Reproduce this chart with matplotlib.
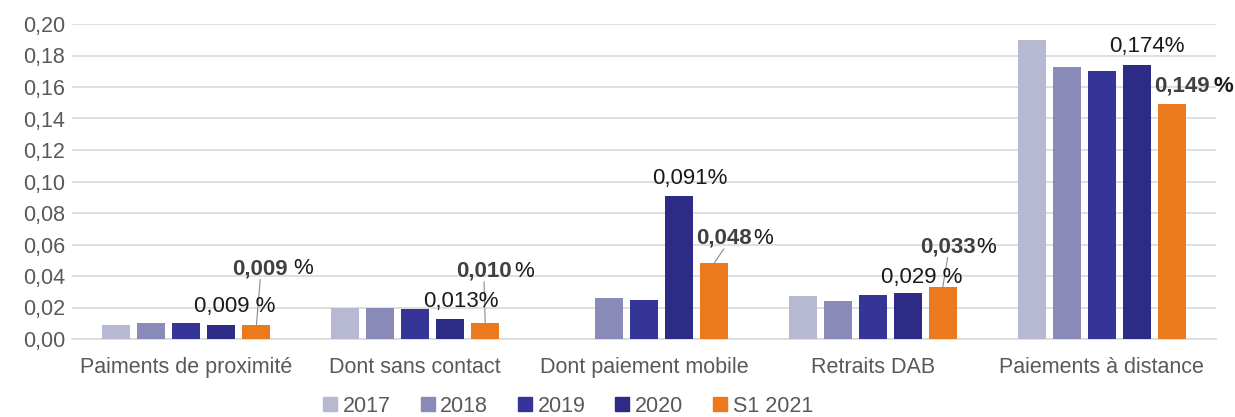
import numpy as np
import matplotlib.pyplot as plt
from matplotlib.patches import Patch

plt.rcParams["font.family"] = ["Liberation Sans", "DejaVu Sans"]

categories = ["Paiments de proximité", "Dont sans contact", "Dont paiement mobile",
              "Retraits DAB", "Paiements à distance"]
series = ["2017", "2018", "2019", "2020", "S1 2021"]
v2017 = [0.009, 0.020, np.nan, 0.027, 0.190]
v2018 = [0.010, 0.020, 0.026, 0.024, 0.173]
v2019 = [0.010, 0.019, 0.025, 0.028, 0.170]
v2020 = [0.009, 0.013, 0.091, 0.029, 0.174]
vS1 = [0.009, 0.010, 0.048, 0.033, 0.149]
yticks = [0.00, 0.02, 0.04, 0.06, 0.08, 0.10, 0.12, 0.14, 0.16, 0.18, 0.20]

colors = ["#b7b8d2", "#898ab7", "#353597", "#2c2b85", "#ea7a1d"]
values = [v2017, v2018, v2019, v2020, vS1]

fig = plt.figure(figsize=(12.35, 4.17), dpi=100)
ax = fig.add_axes([72 / 1235, 1 - 339 / 417, 1144 / 1235, 315 / 417])

x = np.arange(len(categories))
pitch = 0.153
width = 0.122
for i, vals in enumerate(values):
    ax.bar(x + (i - 2) * pitch, vals, width=width, color=colors[i], zorder=3)

ax.set_xlim(-0.5, 4.5)
ax.set_ylim(0, 0.20)
ax.set_yticks(yticks)
ax.set_yticklabels([f"{t:.2f}".replace(".", ",") for t in yticks])
ax.set_xticks(x)
ax.set_xticklabels(categories)
ax.grid(axis="y", color="#d9d9d9", lw=1.2, zorder=0)
for s in ["top", "right", "left"]:
    ax.spines[s].set_visible(False)
ax.spines["bottom"].set_color("#d9d9d9")
ax.spines["bottom"].set_linewidth(1.2)
ax.tick_params(axis="both", length=0, labelsize=15.5, colors="#595959")
ax.tick_params(axis="x", pad=13)
ax.tick_params(axis="y", pad=5)


def fmt(v):
    return f"{v:.3f}".replace(".", ",")


# labels for 2020 (regular)
sep2020 = [" ", "", "", " ", ""]
dy2020 = [18, 17, 17, 16, 18]
for g in range(5):
    ax.annotate(fmt(v2020[g]) + sep2020[g] + "%", xy=(x[g] + pitch, v2020[g]),
                xytext=(-27, dy2020[g]), textcoords="offset pixels",
                ha="left", va="center", fontsize=16, color="#1a1a1a",
                annotation_clip=False, zorder=5)

# labels for S1 2021 (bold value, leader lines)
dxS1 = [-24, -29, -18, -23, -17]
dyS1 = [56, 52, 25, 40, 18]
gapS1 = [5, 2, 2, 1, 3]
leader = [True, True, True, True, False]
for g in range(5):
    top = (x[g] + 2 * pitch, vS1[g])
    t = ax.annotate(fmt(vS1[g]), xy=top,
                    xytext=(dxS1[g], dyS1[g]), textcoords="offset pixels",
                    ha="left", va="center", fontsize=16, fontweight="bold",
                    color="#404040", annotation_clip=False, zorder=5)
    ax.annotate("%", xy=(1, 0.5), xycoords=t, xytext=(gapS1[g], 0),
                textcoords="offset pixels", ha="left", va="center",
                fontsize=16, color="#1a1a1a",
                fontweight="bold" if g == 4 else "normal",
                annotation_clip=False, zorder=5)
    if leader[g]:
        ax.annotate("", xy=top, xytext=(0.5, 0), textcoords=t,
                    arrowprops=dict(arrowstyle="-", color="#8c8c8c", lw=0.8,
                                    shrinkA=0, shrinkB=0),
                    annotation_clip=False, zorder=4)

handles = [Patch(color=c) for c in colors]
fig.legend(handles, series, loc="center", bbox_to_anchor=(568 / 1235, 11 / 417),
           ncol=5, frameon=False, fontsize=15.5, labelcolor="#595959",
           handlelength=0.65, handleheight=0.65, handletextpad=0.25,
           columnspacing=1.4, borderpad=0)

fig.savefig("out.png", dpi=100)
